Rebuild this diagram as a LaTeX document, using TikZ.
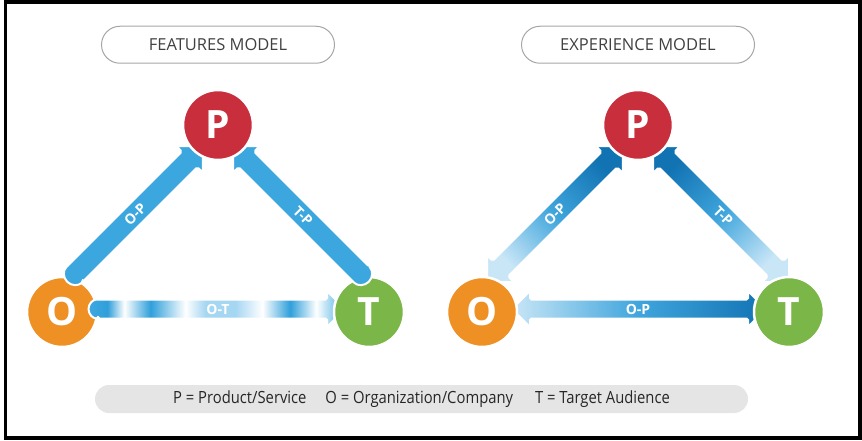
\documentclass[tikz,border=0pt]{standalone}
\usepackage{fontspec}
\setmainfont{Open Sans}
\newfontfamily\legendfont[FakeStretch=0.88]{Open Sans}
\usetikzlibrary{positioning}

\definecolor{pcol}{HTML}{C82E3B}
\definecolor{ocol}{HTML}{EF9025}
\definecolor{tcol}{HTML}{7AB648}
\definecolor{arrowblue}{HTML}{3BA7DE}
\definecolor{lightblue}{HTML}{C9E6F7}
\definecolor{midblue}{HTML}{3FA5DC}
\definecolor{darkblue}{HTML}{1273B3}
\definecolor{stripeblue}{HTML}{2F9FDA}
\definecolor{stripelight}{HTML}{A5D6F2}
\definecolor{edgeblue}{HTML}{3FA8E0}
\definecolor{headlight}{HTML}{B5DEF4}
\definecolor{headblue}{HTML}{4BAEE2}

\pgfdeclarehorizontalshading{otstripes}{100bp}{color(0bp)=(edgeblue); color(25bp)=(edgeblue);
  color(28.7bp)=(stripeblue); color(32bp)=(white); color(37.1bp)=(stripeblue);
  color(43.9bp)=(white); color(47.8bp)=(stripelight); color(53.6bp)=(stripelight);
  color(58.9bp)=(white); color(64.3bp)=(stripeblue); color(69.4bp)=(white);
  color(71.5bp)=(headlight); color(75bp)=(headblue); color(100bp)=(headblue)}

\begin{document}
\begin{tikzpicture}[x=1pt,y=1pt,
    circ/.style={circle,minimum size=70pt,inner sep=0pt,draw=white,line width=2.5pt,
      text=white,font=\fontsize{39}{39}\selectfont\bfseries},
    band/.style={draw=white,line width=2pt,rounded corners=1.5pt},
    bandlabel/.style={text=white,inner sep=0pt,font=\fontsize{14}{14}\selectfont\bfseries},
    titlebox/.style={draw=black!35,line width=1pt,rounded corners=18.5pt,minimum width=233pt,
      minimum height=37pt,text=black!75,font=\fontsize{16.5}{16.5}\selectfont},
    legendbox/.style={fill=black!10,rounded corners=14pt,minimum width=653pt,minimum height=28pt,
      text=black!85,font=\legendfont\fontsize{16.8}{16.8}\selectfont}]
    \useasboundingbox (0,0) rectangle (862,440);
    \draw[line width=3.5pt] (5.5,2) rectangle (860,438);

    % features model
    \node[circ,fill=ocol] (oF) at (62,128) {O};
    \begin{scope}[shift={(98,131)}]
        \shade[band,shading=otstripes] (0,-9.5) -- (229,-9.5) -- (229,-18) -- (247,0) -- (229,18)
            -- (229,9.5) -- (0,9.5) arc[start angle=90,end angle=270,radius=9.5] -- cycle;
        \node[bandlabel] (otF) at (120,0) {O-T};
    \end{scope}
    \node[circ,fill=tcol] (tF) at (369,128) {T};
    \begin{scope}[shift={(75,166)},rotate=45]
        \path[band,fill=arrowblue] (0,-11) -- (162,-11) -- (162,-19) -- (181,0) -- (162,19)
            -- (162,11) -- (0,11) arc[start angle=90,end angle=270,radius=11] -- cycle;
        \node[bandlabel,rotate=45] (opF) at (85,0) {O-P};
    \end{scope}
    \begin{scope}[shift={(361,166)},rotate=135]
        \path[band,fill=arrowblue] (0,-11) -- (162,-11) -- (162,-19) -- (181,0) -- (162,19)
            -- (162,11) -- (0,11) arc[start angle=90,end angle=270,radius=11] -- cycle;
        \node[bandlabel,rotate=-45] (tpF) at (82,0) {T-P};
    \end{scope}
    \node[circ,fill=pcol] (pF) at (218,315) {P};
    \node[titlebox,above=25pt of pF] (titleF) {FEATURES MODEL};

    % experience model
    \begin{scope}[shift={(487,158)},rotate=45]
        \shade[band,bottom color=lightblue,top color=darkblue,middle color=midblue,shading angle=-45]
            (0,0) -- (19,19) -- (19,11) -- (173,11) -- (173,19) -- (192,0) -- (173,-19)
            -- (173,-11) -- (19,-11) -- (19,-19) -- cycle;
        \node[bandlabel,rotate=45] (opE) at (96,0) {O-P};
    \end{scope}
    \begin{scope}[shift={(789,158)},rotate=135]
        \shade[band,bottom color=lightblue,top color=darkblue,middle color=midblue,shading angle=45]
            (0,0) -- (19,19) -- (19,11) -- (173,11) -- (173,19) -- (192,0) -- (173,-19)
            -- (173,-11) -- (19,-11) -- (19,-19) -- cycle;
        \node[bandlabel,rotate=-45] (tpE) at (93,0) {T-P};
    \end{scope}
    \begin{scope}[shift={(512,131)}]
        \shade[band,left color=lightblue,right color=darkblue,middle color=midblue]
            (0,0) -- (18,18) -- (18,9.5) -- (236,9.5) -- (236,18) -- (254,0) -- (236,-18)
            -- (236,-9.5) -- (18,-9.5) -- (18,-18) -- cycle;
        \node[bandlabel] (otE) at (126,0) {O-P};
    \end{scope}
    \node[circ,fill=ocol] (oE) at (482,128) {O};
    \node[circ,fill=tcol] (tE) at (789,128) {T};
    \node[circ,fill=pcol] (pE) at (638,315) {P};
    \node[titlebox,above=25pt of pE] (titleE) {EXPERIENCE MODEL};

    % legend
    \node[legendbox] (legend) at (421.5,41) {P = Product/Service\hspace{19pt}O = Organization/Company\hspace{22pt}T = Target Audience};
\end{tikzpicture}
\end{document}
